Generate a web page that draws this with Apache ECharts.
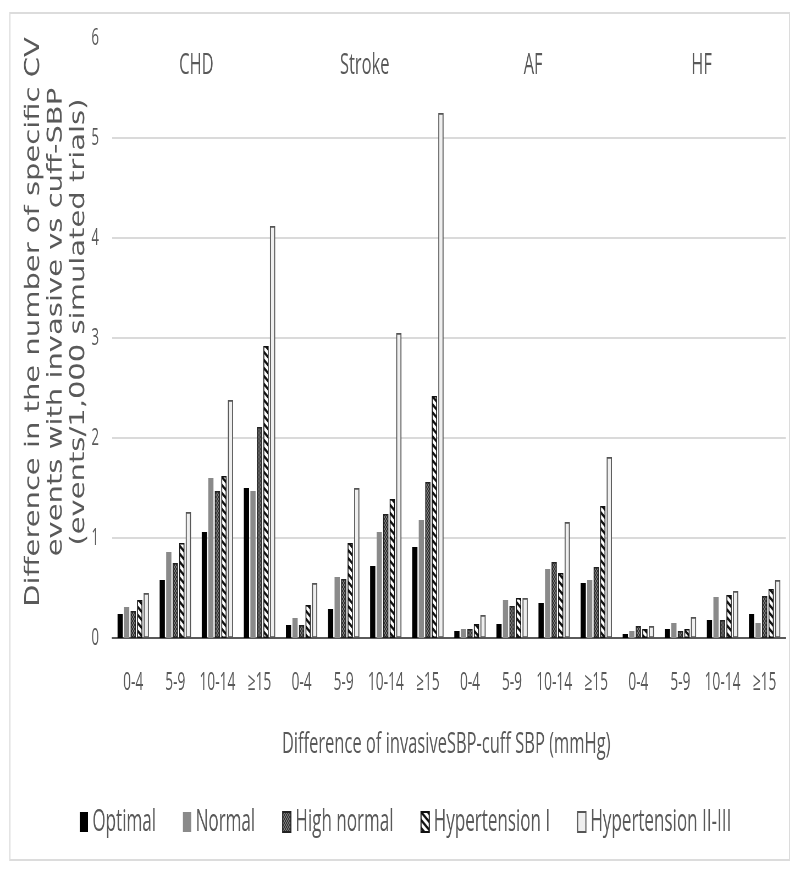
<!DOCTYPE html>
<html><head><meta charset="utf-8">
<script src="https://cdn.jsdelivr.net/npm/echarts@6/dist/echarts.min.js"></script>
<style>
html,body{margin:0;padding:0;overflow:hidden;background:#fff;width:800px;height:872px}
#wrap{width:800px;height:872px;overflow:hidden;position:relative}
#chart{width:1455px;height:872px;transform:scaleX(0.5498);transform-origin:0 0;position:absolute;left:0;top:0}
</style></head><body><div id="wrap"><div id="chart"></div></div>
<script>
// ---- data ----
const groups = ['CHD', 'Stroke', 'AF', 'HF'];
const bins = ['0-4', '5-9', '10-14', '≥15'];
const categories = [
  '0-4','5-9','10-14','≥15',
  '0-4','5-9','10-14','≥15',
  '0-4','5-9','10-14','≥15',
  '0-4','5-9','10-14','≥15'
];
const yTicks = [0, 1, 2, 3, 4, 5, 6];
const gridValues = [1, 2, 3, 4, 5];
const seriesNames = ['Optimal', 'Normal', 'High normal', 'Hypertension I', 'Hypertension II-III'];
const optimal    = [0.24,0.58,1.06,1.50, 0.13,0.29,0.72,0.91, 0.07,0.14,0.35,0.55, 0.04,0.09,0.18,0.24];
const normal     = [0.31,0.86,1.60,1.47, 0.20,0.61,1.06,1.18, 0.09,0.38,0.69,0.58, 0.07,0.15,0.41,0.15];
const highNormal = [0.27,0.75,1.47,2.11, 0.13,0.59,1.24,1.56, 0.09,0.32,0.76,0.71, 0.12,0.07,0.18,0.42];
const hyper1     = [0.38,0.95,1.62,2.92, 0.33,0.95,1.39,2.42, 0.14,0.40,0.65,1.32, 0.09,0.09,0.43,0.49];
const hyper23    = [0.45,1.26,2.38,4.12, 0.55,1.50,3.05,5.25, 0.23,0.40,1.16,1.81, 0.12,0.21,0.47,0.58];
const yTitle = ['Difference in the number of specific CV', 'events with invasive vs cuff-SBP', '(events/1,000 simulated trials)'];
const xTitle = 'Difference of invasiveSBP-cuff SBP (mmHg)';

// ---- patterns ----
function hatchTile() {
  const c = document.createElement('canvas'); c.width = 12; c.height = 8;
  const g = c.getContext('2d');
  g.fillStyle = '#fff'; g.fillRect(0, 0, 12, 8);
  g.strokeStyle = '#111'; g.lineWidth = 3;
  for (let k = -1; k <= 1; k++) {
    g.beginPath(); g.moveTo(12 * k - 6, -4); g.lineTo(12 * k + 18, 12); g.stroke();
  }
  return c;
}
function dotTile() {
  const c = document.createElement('canvas'); c.width = 4; c.height = 4;
  const g = c.getContext('2d');
  g.fillStyle = '#7a7a7a'; g.fillRect(0, 0, 4, 4);
  g.fillStyle = '#333'; g.fillRect(0, 0, 2, 2); g.fillRect(2, 2, 2, 2);
  return c;
}
const FONT = 'Open Sans';
const TXT = '#595959';
const styles = [
  { color: '#000' },
  { color: '#8a8a8a' },
  { color: { image: dotTile(), repeat: 'repeat' }, borderColor: '#222', borderWidth: 1.6 },
  { color: { image: hatchTile(), repeat: 'repeat' }, borderColor: '#111', borderWidth: 1.6 },
  { color: '#efefef', borderColor: '#555', borderWidth: 1.8 }
];
const values = [optimal, normal, highNormal, hyper1, hyper23];

const chart = echarts.init(document.getElementById('chart'), null, { renderer: 'canvas' });
const series = seriesNames.map((n, i) => {
  const s = {
    name: n, type: 'bar', data: values[i], xAxisIndex: 0,
    barWidth: 9.5, barGap: '25%', itemStyle: styles[i]
  };
  if (i === 0) {
    s.markLine = {
      silent: true, symbol: ['none', 'none'], z: 1, label: { show: false },
      lineStyle: { color: '#dadada', width: 2, type: 'solid' },
      data: gridValues.map(v => ({ yAxis: v }))
    };
  }
  return s;
});

chart.setOption({
  animation: false,
  backgroundColor: '#fff',
  grid: { left: 204, right: 26, top: 38, bottom: 234 },
  xAxis: [
    {
      type: 'category', data: categories, position: 'bottom',
      axisLine: { show: true, lineStyle: { color: '#5a5a5a', width: 2 } },
      axisTick: { show: false },
      axisLabel: { interval: 0, margin: 32, fontFamily: FONT, fontSize: 25, color: TXT },
      name: xTitle, nameLocation: 'middle', nameGap: 91,
      nameTextStyle: { fontFamily: FONT, fontSize: 30, color: TXT, padding: [0, 10, 0, 0] }
    },
    {
      type: 'category', data: groups, position: 'top',
      axisLine: { show: false }, axisTick: { show: false },
      axisLabel: { inside: true, margin: 12, fontFamily: FONT, fontSize: 30, color: TXT }
    }
  ],
  yAxis: {
    type: 'value', min: yTicks[0], max: yTicks[yTicks.length - 1], interval: 1,
    axisLine: { show: false }, axisTick: { show: false }, splitLine: { show: false },
    axisLabel: { margin: 24, fontFamily: FONT, fontSize: 24, color: TXT }
  },
  legend: {
    data: seriesNames, left: 140, top: 799, icon: 'rect',
    itemWidth: 15, itemHeight: 20, itemGap: 49,
    textStyle: { fontFamily: FONT, fontSize: 31, lineHeight: 36, color: TXT, padding: [0, 0, 0, 3] }
  },
  graphic: [
    { type: 'rect', silent: true, z: -10,
      shape: { x: 18, y: 13, width: 1418, height: 847 },
      style: { fill: 'none', stroke: '#dcdcdc', lineWidth: 2 } },
    { type: 'text', silent: true, x: 102, y: 322, rotation: Math.PI / 2, scaleX: 1, scaleY: 1.3,
      style: { text: yTitle.join('\n'), fontFamily: 'DejaVu Sans', fontSize: 29, lineHeight: 31.5,
               fill: TXT, align: 'center', verticalAlign: 'middle' } }
  ],
  series: series
});
</script></body></html>
